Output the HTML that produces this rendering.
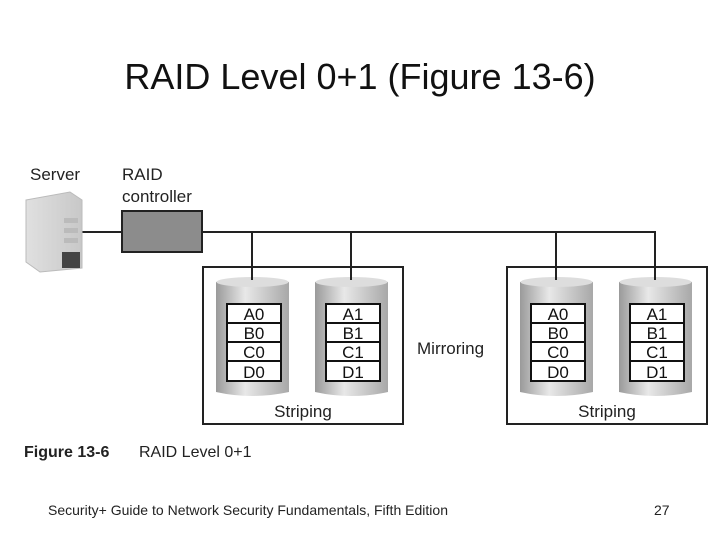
<!DOCTYPE html>
<html><head><meta charset="utf-8"><style>
body{margin:0;width:720px;height:540px;background:#fff;position:relative;overflow:hidden;font-family:"Liberation Sans",sans-serif}
.t{position:absolute;white-space:nowrap}
</style></head><body>
<div class="t" style="left:0;width:720px;text-align:center;top:56px;font-size:36px;color:#111">RAID Level 0+1 (Figure 13-6)</div>
<svg width="720" height="540" style="position:absolute;left:0;top:0" font-family="Liberation Sans, sans-serif">
<defs>
<linearGradient id="cg" x1="0" x2="1"><stop offset="0" stop-color="#9a9a9a"/><stop offset="0.4" stop-color="#e8e8e8"/><stop offset="1" stop-color="#a8a8a8"/></linearGradient>
<linearGradient id="sg" x1="0" x2="1"><stop offset="0" stop-color="#e0e0e0"/><stop offset="1" stop-color="#c8c8c8"/></linearGradient>
</defs>
<g stroke="#222" stroke-width="2" fill="none">
<line x1="82" y1="232" x2="122" y2="232"/>
<line x1="202" y1="232" x2="656" y2="232"/>
<line x1="252" y1="232" x2="252" y2="280"/>
<line x1="351" y1="232" x2="351" y2="280"/>
<line x1="556" y1="232" x2="556" y2="280"/>
<line x1="655" y1="232" x2="655" y2="280"/>
<rect x="203" y="267" width="200" height="157"/>
<rect x="507" y="267" width="200" height="157"/>
</g>
<rect x="122" y="211" width="80" height="41" fill="#8c8c8c" stroke="#222" stroke-width="2"/>
<path d="M26 200 L70 192 L82 200 L82 268 L40 272 L26 262 Z" fill="url(#sg)" stroke="#bbb"/>
<rect x="64" y="218" width="14" height="5" fill="#bbb"/><rect x="64" y="228" width="14" height="5" fill="#bbb"/><rect x="64" y="238" width="14" height="5" fill="#bbb"/>
<rect x="62" y="252" width="18" height="16" fill="#444"/>
<g fill="url(#cg)">
<path d="M216 282 Q252 274 289 282 L289 392 Q252 400 216 392 Z"/>
<path d="M315 282 Q351 274 388 282 L388 392 Q351 400 315 392 Z"/>
<path d="M520 282 Q556 274 593 282 L593 392 Q556 400 520 392 Z"/>
<path d="M619 282 Q655 274 692 282 L692 392 Q655 400 619 392 Z"/>
</g>
<g fill="#ddd">
<ellipse cx="252.5" cy="282" rx="36" ry="5"/><ellipse cx="351.5" cy="282" rx="36" ry="5"/><ellipse cx="556.5" cy="282" rx="36" ry="5"/><ellipse cx="655.5" cy="282" rx="36" ry="5"/>
</g>
<g stroke="#222" stroke-width="2"><line x1="252" y1="270" x2="252" y2="280"/><line x1="351" y1="270" x2="351" y2="280"/><line x1="556" y1="270" x2="556" y2="280"/><line x1="655" y1="270" x2="655" y2="280"/></g>
<g font-size="17" text-anchor="middle" fill="#111">
<g transform="translate(227,304)"><rect width="54" height="77" fill="#fff" stroke="#111" stroke-width="2"/><path d="M0 19H54M0 38H54M0 57H54" stroke="#111" stroke-width="2"/><text x="27" y="16">A0</text><text x="27" y="35">B0</text><text x="27" y="54">C0</text><text x="27" y="74">D0</text></g>
<g transform="translate(326,304)"><rect width="54" height="77" fill="#fff" stroke="#111" stroke-width="2"/><path d="M0 19H54M0 38H54M0 57H54" stroke="#111" stroke-width="2"/><text x="27" y="16">A1</text><text x="27" y="35">B1</text><text x="27" y="54">C1</text><text x="27" y="74">D1</text></g>
<g transform="translate(531,304)"><rect width="54" height="77" fill="#fff" stroke="#111" stroke-width="2"/><path d="M0 19H54M0 38H54M0 57H54" stroke="#111" stroke-width="2"/><text x="27" y="16">A0</text><text x="27" y="35">B0</text><text x="27" y="54">C0</text><text x="27" y="74">D0</text></g>
<g transform="translate(630,304)"><rect width="54" height="77" fill="#fff" stroke="#111" stroke-width="2"/><path d="M0 19H54M0 38H54M0 57H54" stroke="#111" stroke-width="2"/><text x="27" y="16">A1</text><text x="27" y="35">B1</text><text x="27" y="54">C1</text><text x="27" y="74">D1</text></g>
</g>
<g font-size="17" fill="#222">
<text x="30" y="180">Server</text>
<text x="122" y="180">RAID</text>
<text x="122" y="202">controller</text>
<text x="417" y="354">Mirroring</text>
<text x="303" y="417" text-anchor="middle">Striping</text>
<text x="607" y="417" text-anchor="middle">Striping</text>
<text x="24" y="457" font-weight="bold" font-size="16">Figure 13-6</text>
<text x="139" y="457" font-size="16">RAID Level 0+1</text>
</g>
<text x="48" y="515" font-size="14" textLength="400" fill="#222">Security+ Guide to Network Security Fundamentals, Fifth Edition</text>
<text x="654" y="515" font-size="14" fill="#222">27</text>
</svg>
</body></html>
